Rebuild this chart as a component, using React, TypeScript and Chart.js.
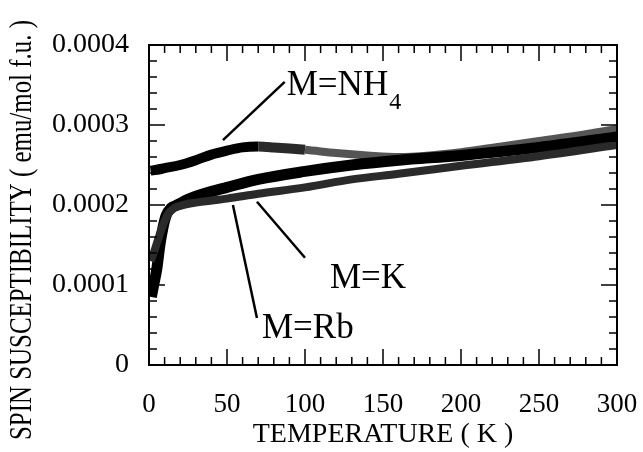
import React, { useEffect, useRef } from "react";
import { Chart, registerables } from "chart.js";

Chart.register(...registerables);

// ---- data (temperature in K, susceptibility in emu/mol f.u.) ----
const nh4Temp = [1, 5, 10, 20, 30, 40, 50, 60, 70, 80, 100, 120, 140, 160, 180, 200, 225, 250, 275, 300];
const nh4Chi = [0.000243, 0.000244, 0.000246, 0.00025, 0.000256, 0.000263, 0.000268, 0.000272, 0.000273, 0.000272, 0.000269, 0.000265, 0.000262, 0.00026, 0.000262, 0.000266, 0.000273, 0.00028, 0.000287, 0.000295];

const rbTemp = [1.5, 3, 5, 7, 9, 11, 14, 18, 25, 35, 50, 70, 100, 130, 160, 200, 250, 300];
const rbChi = [0.000085, 0.0001, 0.00012, 0.00015, 0.000172, 0.000187, 0.000196, 0.0002, 0.000207, 0.000214, 0.000222, 0.000232, 0.000242, 0.00025, 0.000256, 0.000262, 0.000272, 0.000285];

const kTemp = [1, 3, 6, 9, 12, 16, 20, 30, 50, 70, 100, 130, 160, 200, 250, 300];
const kChi = [0.00013, 0.00014, 0.000158, 0.000175, 0.000188, 0.000196, 0.000199, 0.000203, 0.000208, 0.000214, 0.000222, 0.000232, 0.000239, 0.000249, 0.000261, 0.000275];

const xTickValues = [0, 50, 100, 150, 200, 250, 300];
const yTickValues = [0, 0.0001, 0.0002, 0.0003, 0.0004];

const Y_TITLE = "SPIN SUSCEPTIBILITY ( emu/mol f.u. )";
const X_TITLE = "TEMPERATURE ( K )";

// callouts, in data coordinates
const CALLOUTS = [
  { text: "M=NH", sub: "4", from: [47.4, 0.000281], to: [87, 0.000354], at: [88.3, 0.0003375] },
  { text: "M=Rb", sub: "", from: [53.8, 0.0002], to: [69.2, 0.0000588], at: [72.4, 0.0000338] },
  { text: "M=K", sub: "", from: [69.2, 0.000204], to: [100, 0.000134], at: [116, 0.0000963] },
];

const FONT = '"Liberation Serif", "Times New Roman", serif';

const toXY = (xs: number[], ys: number[]) => xs.map((x, i) => ({ x, y: ys[i] }));

const framePlugin = {
  id: "frameAndTicks",
  afterDatasetsDraw(chart: any) {
    const { ctx, chartArea: a, scales } = chart;
    const xs = scales.x;
    const ys = scales.y;
    ctx.save();
    ctx.strokeStyle = "#000";
    ctx.lineWidth = 2;
    ctx.strokeRect(a.left, a.top, a.right - a.left, a.bottom - a.top);
    ctx.lineWidth = 1.5;
    ctx.beginPath();
    for (let t = 0; t <= 300; t += 10) {
      const px = xs.getPixelForValue(t);
      const len = t % 50 === 0 ? 16 : 8;
      ctx.moveTo(px, a.bottom);
      ctx.lineTo(px, a.bottom - len);
      ctx.moveTo(px, a.top);
      ctx.lineTo(px, a.top + len);
    }
    for (let i = 0; i <= 20; i++) {
      const v = i * 0.00002;
      const py = ys.getPixelForValue(v);
      const len = i % 5 === 0 ? 16 : 8;
      ctx.moveTo(a.left, py);
      ctx.lineTo(a.left + len, py);
      ctx.moveTo(a.right, py);
      ctx.lineTo(a.right - len, py);
    }
    ctx.stroke();

    // callouts
    ctx.lineWidth = 2.5;
    ctx.fillStyle = "#000";
    CALLOUTS.forEach((c) => {
      ctx.beginPath();
      ctx.moveTo(xs.getPixelForValue(c.from[0]), ys.getPixelForValue(c.from[1]));
      ctx.lineTo(xs.getPixelForValue(c.to[0]), ys.getPixelForValue(c.to[1]));
      ctx.stroke();
      const tx = xs.getPixelForValue(c.at[0]);
      const ty = ys.getPixelForValue(c.at[1]);
      ctx.font = `35px ${FONT}`;
      ctx.textAlign = "left";
      ctx.textBaseline = "alphabetic";
      ctx.fillText(c.text, tx, ty);
      if (c.sub) {
        const w = ctx.measureText(c.text).width;
        ctx.font = `24px ${FONT}`;
        ctx.fillText(c.sub, tx + w + 1, ty + 14);
      }
    });

    // y axis title
    ctx.save();
    ctx.translate(23, 230);
    ctx.rotate(-Math.PI / 2);
    ctx.font = `31px ${FONT}`;
    const w = ctx.measureText(Y_TITLE).width;
    ctx.scale(420 / w, 1);
    ctx.textAlign = "center";
    ctx.textBaseline = "middle";
    ctx.fillText(Y_TITLE, 0, 0);
    ctx.restore();
    ctx.restore();
  },
};

export default function App() {
  const ref = useRef<HTMLCanvasElement>(null);
  useEffect(() => {
    document.body.style.margin = "0";
    const canvas = ref.current;
    if (!canvas) return;
    const chart = new Chart(canvas, {
      type: "line",
      data: {
        datasets: [
          {
            label: "M=K",
            data: toXY(kTemp, kChi),
            borderColor: "#2a2a2a",
            borderWidth: 8,
            pointRadius: 0,
            cubicInterpolationMode: "monotone",
            fill: false,
          },
          {
            label: "M=Rb",
            data: toXY(rbTemp, rbChi),
            borderColor: "#000",
            borderWidth: 11,
            pointRadius: 0,
            cubicInterpolationMode: "monotone",
            fill: false,
          },
          {
            label: "M=NH4",
            data: toXY(nh4Temp, nh4Chi),
            borderColor: "#000",
            borderWidth: 10,
            pointRadius: 0,
            cubicInterpolationMode: "monotone",
            fill: false,
            segment: {
              borderColor: (ctx: any) => (ctx.p0.parsed.x >= 100 ? "#555" : ctx.p0.parsed.x >= 70 ? "#2a2a2a" : "#000"),
              borderWidth: (ctx: any) => (ctx.p0.parsed.x >= 100 ? 8 : 10),
            },
          },
        ],
      },
      options: {
        responsive: false,
        animation: false,
        devicePixelRatio: 1,
        layout: { padding: { top: 45, right: 26, bottom: 0, left: 0 } },
        plugins: { legend: { display: false }, tooltip: { enabled: false } },
        scales: {
          x: {
            type: "linear",
            min: 0,
            max: 300,
            afterBuildTicks: (s: any) => {
              s.ticks = xTickValues.map((v) => ({ value: v }));
            },
            afterFit: (s: any) => {
              s.height = 87;
              s.paddingLeft = 0;
              s.paddingRight = 0;
            },
            ticks: { color: "#000", font: { family: FONT, size: 27 }, padding: 16, maxRotation: 0 },
            grid: { display: false },
            border: { display: false },
            title: {
              display: true,
              text: X_TITLE,
              color: "#000",
              font: { family: FONT, size: 28 },
              padding: { top: 0, bottom: 1 },
            },
          },
          y: {
            type: "linear",
            min: 0,
            max: 0.0004,
            afterBuildTicks: (s: any) => {
              s.ticks = yTickValues.map((v) => ({ value: v }));
            },
            afterFit: (s: any) => {
              s.width = 149;
              s.paddingTop = 0;
              s.paddingBottom = 0;
            },
            ticks: {
              color: "#000",
              font: { family: FONT, size: 28 },
              padding: 12,
              callback: (v: any) => (Number(v) === 0 ? "0" : Number(v).toFixed(4)),
            },
            grid: { display: false },
            border: { display: false },
          },
        },
      },
      plugins: [framePlugin],
    } as any);
    return () => chart.destroy();
  }, []);
  return <canvas ref={ref} width={643} height={452} style={{ display: "block" }} />;
}
